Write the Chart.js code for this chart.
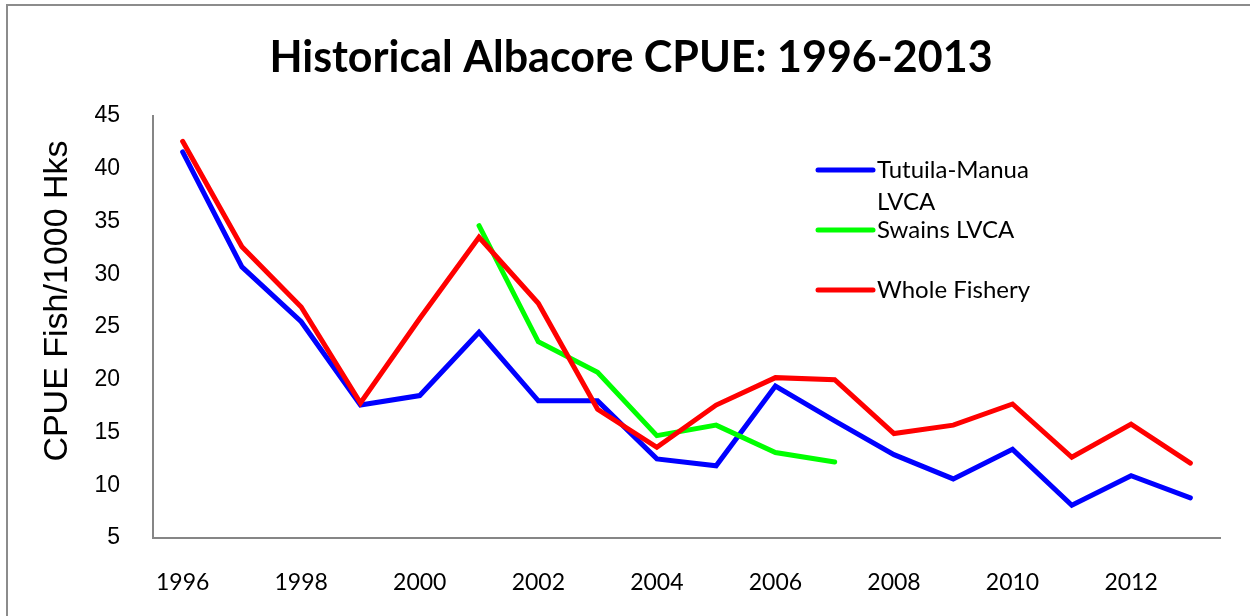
<!DOCTYPE html>
<html>
<head>
<meta charset="utf-8">
<title>Historical Albacore CPUE</title>
<script src="https://cdn.jsdelivr.net/npm/chart.js@4/dist/chart.umd.min.js"></script>
<style>
  html, body { margin: 0; padding: 0; background: #fff; }
  #wrap { position: relative; width: 1250px; height: 616px; overflow: hidden; }
  #frame { position: absolute; left: 6px; top: 4px; width: 1250px; height: 700px;
           border-left: 2px solid #8c8c8c; border-top: 2px solid #8c8c8c; pointer-events: none; }
</style>
</head>
<body>
<div id="wrap">
  <canvas id="cpue" width="1250" height="616"></canvas>
  <div id="frame"></div>
</div>
<script>
const years = ["1996","1997","1998","1999","2000","2001","2002","2003","2004",
               "2005","2006","2007","2008","2009","2010","2011","2012","2013"];

const tutuila = [41.6, 30.7, 25.5, 17.6, 18.5, 24.5, 18.0, 18.0, 12.5,
                 11.85, 19.4, 16.1, 12.9, 10.6, 13.4, 8.1, 10.9, 8.8];
const swains = [null, null, null, null, null, 34.6, 23.6, 20.7, 14.7,
                15.7, 13.1, 12.2, null, null, null, null, null, null];
const whole = [42.6, 32.6, 26.9, 17.8, 25.8, 33.5, 27.25, 17.2, 13.6,
               17.6, 20.2, 20.0, 14.9, 15.7, 17.7, 12.65, 15.8, 12.1];

const seriesNames = ["Tutuila-Manua LVCA", "Swains LVCA", "Whole Fishery"];
const seriesColors = ["#0000ff", "#00ff00", "#ff0000"];
const yTitle = "CPUE Fish/1000 Hks";

// legend drawn inside the plot, Excel style (fixed row spacing, wrapped text)
const insideLegend = {
  id: "insideLegend",
  afterDraw(chart) {
    const ctx = chart.ctx;
    const x0 = 818, lineLen = 55, textX = 877, maxW = 165;
    ctx.save();
    ctx.font = "24px Lato, 'Open Sans', sans-serif";
    ctx.textBaseline = "middle";
    ctx.textAlign = "left";
    chart.data.datasets.forEach((ds, i) => {
      const y = 170 + i * 60;
      ctx.strokeStyle = ds.borderColor;
      ctx.lineWidth = 5;
      ctx.lineCap = "round";
      ctx.beginPath();
      ctx.moveTo(x0, y);
      ctx.lineTo(x0 + lineLen, y);
      ctx.stroke();
      // simple word wrap
      const words = ds.label.split(" ");
      let lines = [], cur = "";
      words.forEach(w => {
        const test = cur ? cur + " " + w : w;
        if (cur && ctx.measureText(test).width > maxW) { lines.push(cur); cur = w; }
        else cur = test;
      });
      lines.push(cur);
      ctx.fillStyle = "#000";
      lines.forEach((l, j) => ctx.fillText(l, textX, y + j * 32.5));
    });
    ctx.restore();
  }
};

// y axis title, placed a bit above the plot middle like the original
const yAxisTitle = {
  id: "yAxisTitle",
  afterDraw(chart) {
    const ctx = chart.ctx;
    ctx.save();
    ctx.translate(58, 301);
    ctx.rotate(-Math.PI / 2);
    ctx.font = "34px 'Liberation Sans', Arial, sans-serif";
    ctx.fillStyle = "#000";
    ctx.textAlign = "center";
    ctx.textBaseline = "middle";
    ctx.fillText(yTitle, 0, 0);
    ctx.restore();
  }
};

const mk = (i, data, order) => ({
  label: seriesNames[i],
  data: data,
  borderColor: seriesColors[i],
  backgroundColor: seriesColors[i],
  borderWidth: 5,
  borderCapStyle: "round",
  pointRadius: 0,
  tension: 0,
  fill: false,
  spanGaps: false,
  order: order
});

new Chart(document.getElementById("cpue"), {
  type: "line",
  data: {
    labels: years,
    datasets: [mk(0, tutuila, 2), mk(1, swains, 1), mk(2, whole, 0)]
  },
  options: {
    responsive: false,
    animation: false,
    layout: { padding: { left: 42, right: 30, top: 0, bottom: 0 } },
    plugins: {
      legend: { display: false },
      tooltip: { enabled: false },
      title: {
        display: true,
        text: "Historical Albacore CPUE: 1996-2013",
        color: "#000",
        font: { family: "Lato, 'Open Sans', sans-serif", size: 43, weight: "bold" },
        padding: { top: 32, bottom: 32.4 }
      }
    },
    scales: {
      x: {
        offset: true,
        grid: { display: false },
        border: { display: true, color: "#868686", width: 2 },
        ticks: {
          autoSkip: false,
          maxRotation: 0,
          padding: 23,
          color: "#000",
          font: { family: "Lato, 'Open Sans', sans-serif", size: 23 },
          callback: (v, i) => (i % 2 === 0 ? years[i] : "")
        },
        afterFit: s => { s.height = 78; }
      },
      y: {
        min: 5,
        max: 45,
        grid: { display: false },
        border: { display: true, color: "#868686", width: 2 },
        ticks: {
          stepSize: 5,
          padding: 25,
          color: "#000",
          font: { family: "'Liberation Sans Narrow', 'Liberation Sans', Arial, sans-serif", size: 23 }
        },
        afterFit: s => { s.width = 111; }
      }
    }
  },
  plugins: [insideLegend, yAxisTitle]
});
</script>
</body>
</html>
